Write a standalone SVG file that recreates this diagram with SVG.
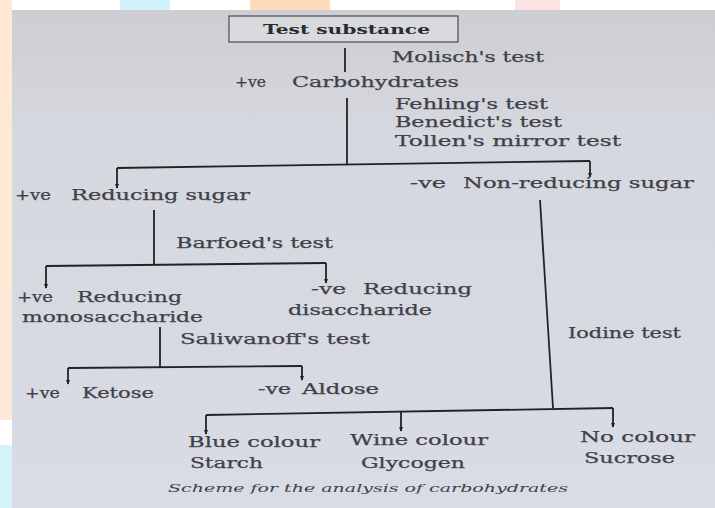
<svg xmlns="http://www.w3.org/2000/svg" width="715" height="508" viewBox="0 0 715 508">
<defs>
<linearGradient id="page" x1="0" y1="0" x2="0" y2="1">
<stop offset="0" stop-color="#cdced3"/>
<stop offset="0.25" stop-color="#d6d8df"/>
<stop offset="1" stop-color="#d9dbe5"/>
</linearGradient>
<marker id="ah" viewBox="0 0 6 6" refX="5" refY="3" markerWidth="5" markerHeight="5" orient="auto" markerUnits="userSpaceOnUse">
<path d="M0,0.5 L6,3 L0,5.5 Z" fill="#222"/>
</marker>
<style>
.t{font-family:"DejaVu Serif","Liberation Serif",serif;font-size:14px;fill:#404148;stroke:#404148;stroke-width:0.25;}
.b{font-weight:bold;font-size:13px;fill:#2c2c30;stroke:none;}
.i{font-style:italic;font-size:11.5px;stroke:none;}
.ln{fill:none;stroke:#222226;stroke-width:1.8;}
.ar{fill:none;stroke:#222226;stroke-width:1.8;marker-end:url(#ah);}
</style>
</defs>
<rect width="715" height="508" fill="#ffffff"/>
<rect x="0" y="0" width="12" height="420" fill="#fde9d6"/>
<rect x="0" y="445" width="12" height="63" fill="#d4f4fc"/>
<rect x="250" y="0" width="80" height="10" fill="#fddcbc"/>
<rect x="120" y="0" width="50" height="10" fill="#d2f2fb"/>
<rect x="515" y="0" width="45" height="10" fill="#fbe3e3"/>
<rect x="12" y="10" width="703" height="498" fill="url(#page)"/>

<g id="connectors">
<path class="ln" d="M345,48 V72"/>
<path class="ln" d="M347,98 V164"/>
<path class="ln" d="M117,168 L590,161"/>
<path class="ar" d="M117,168 V188"/>
<path class="ar" d="M590,161 V177"/>
<path class="ln" d="M154,210 V265"/>
<path class="ln" d="M46,266 L326,263"/>
<path class="ar" d="M46,266 V288"/>
<path class="ar" d="M326,263 V283"/>
<path class="ln" d="M160,327 V367"/>
<path class="ln" d="M68,368 L302,366"/>
<path class="ar" d="M68,368 V384"/>
<path class="ar" d="M302,366 V380"/>
<path class="ln" d="M540,200 L553,408"/>
<path class="ln" d="M206,415 L613,408"/>
<path class="ar" d="M206,415 V434"/>
<path class="ar" d="M401,412 V431"/>
<path class="ar" d="M613,408 V427"/>
</g>

<g id="test-substance">
<rect x="229" y="16" width="229" height="26" fill="#d9dadd" stroke="#55565a" stroke-width="1.3"/>
<text class="t b" x="263" y="34" textLength="167" lengthAdjust="spacingAndGlyphs">Test substance</text>
</g>
<g id="molisch-label">
<text class="t" x="392" y="62" textLength="152" lengthAdjust="spacingAndGlyphs">Molisch's test</text>
</g>
<g id="carbohydrates">
<text class="t" x="235" y="87" textLength="31" lengthAdjust="spacingAndGlyphs">+ve</text>
<text class="t" x="292" y="87" textLength="167" lengthAdjust="spacingAndGlyphs">Carbohydrates</text>
</g>
<g id="reducing-tests-label">
<text class="t" x="395" y="109" textLength="153" lengthAdjust="spacingAndGlyphs">Fehling's test</text>
<text class="t" x="395" y="127" textLength="167" lengthAdjust="spacingAndGlyphs">Benedict's test</text>
<text class="t" x="395" y="146" textLength="226" lengthAdjust="spacingAndGlyphs">Tollen's mirror test</text>
</g>
<g id="reducing-sugar">
<text class="t" x="15" y="200" textLength="36" lengthAdjust="spacingAndGlyphs">+ve</text>
<text class="t" x="71" y="200" textLength="179" lengthAdjust="spacingAndGlyphs">Reducing sugar</text>
</g>
<g id="non-reducing-sugar">
<text class="t" x="410" y="188" textLength="36" lengthAdjust="spacingAndGlyphs">-ve</text>
<text class="t" x="463" y="188" textLength="231" lengthAdjust="spacingAndGlyphs">Non-reducing sugar</text>
</g>
<g id="barfoed-label">
<text class="t" x="176" y="248" textLength="157" lengthAdjust="spacingAndGlyphs">Barfoed's test</text>
</g>
<g id="reducing-monosaccharide">
<text class="t" x="17" y="302" textLength="36" lengthAdjust="spacingAndGlyphs">+ve</text>
<text class="t" x="77" y="302" textLength="105" lengthAdjust="spacingAndGlyphs">Reducing</text>
<text class="t" x="22" y="322" textLength="181" lengthAdjust="spacingAndGlyphs">monosaccharide</text>
</g>
<g id="reducing-disaccharide">
<text class="t" x="311" y="294" textLength="35" lengthAdjust="spacingAndGlyphs">-ve</text>
<text class="t" x="363" y="294" textLength="109" lengthAdjust="spacingAndGlyphs">Reducing</text>
<text class="t" x="288" y="315" textLength="144" lengthAdjust="spacingAndGlyphs">disaccharide</text>
</g>
<g id="saliwanoff-label">
<text class="t" x="180" y="344" textLength="190" lengthAdjust="spacingAndGlyphs">Saliwanoff's test</text>
</g>
<g id="ketose">
<text class="t" x="25" y="398" textLength="35" lengthAdjust="spacingAndGlyphs">+ve</text>
<text class="t" x="82" y="398" textLength="72" lengthAdjust="spacingAndGlyphs">Ketose</text>
</g>
<g id="aldose">
<text class="t" x="258" y="394" textLength="33" lengthAdjust="spacingAndGlyphs">-ve</text>
<text class="t" x="302" y="394" textLength="77" lengthAdjust="spacingAndGlyphs">Aldose</text>
</g>
<g id="iodine-label">
<text class="t" x="568" y="338" textLength="113" lengthAdjust="spacingAndGlyphs">Iodine test</text>
</g>
<g id="starch">
<text class="t" x="188" y="447" textLength="132" lengthAdjust="spacingAndGlyphs">Blue colour</text>
<text class="t" x="190" y="468" textLength="73" lengthAdjust="spacingAndGlyphs">Starch</text>
</g>
<g id="glycogen">
<text class="t" x="350" y="445" textLength="138" lengthAdjust="spacingAndGlyphs">Wine colour</text>
<text class="t" x="361" y="468" textLength="104" lengthAdjust="spacingAndGlyphs">Glycogen</text>
</g>
<g id="sucrose">
<text class="t" x="580" y="442" textLength="115" lengthAdjust="spacingAndGlyphs">No colour</text>
<text class="t" x="584" y="463" textLength="91" lengthAdjust="spacingAndGlyphs">Sucrose</text>
</g>
<g id="caption">
<text class="t i" x="168" y="492" textLength="400" lengthAdjust="spacingAndGlyphs">Scheme for the analysis of carbohydrates</text>
</g>
</svg>
